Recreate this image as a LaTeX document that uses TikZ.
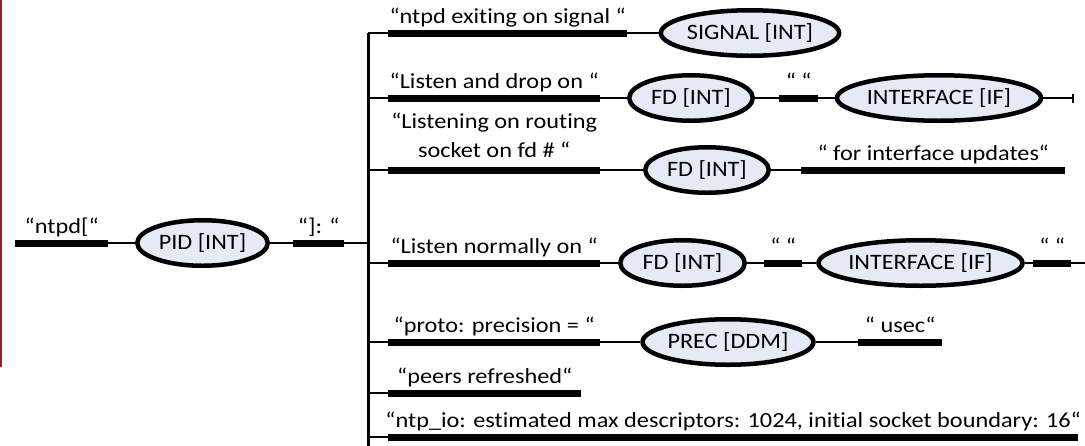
\documentclass[tikz,border=0pt]{standalone}
\usepackage{fontspec}
\setmainfont{Carlito}[FakeStretch=1.1, Ligatures=NoCommon]
\newfontfamily\labelfont{Carlito}[FakeStretch=1.13, Ligatures=NoCommon]
\usetikzlibrary{shapes.geometric}
\definecolor{fieldblue}{RGB}{228,234,246}
\definecolor{marginred}{RGB}{155,28,48}

\begin{document}
\begin{tikzpicture}[x=1pt,y=-1pt,
  lit/.style={rectangle, fill=black, draw=none, inner sep=0pt, minimum height=7pt, anchor=west},
  fld/.style={ellipse, draw=black, line width=4.5pt, fill=fieldblue, inner sep=0pt,
    minimum height=45.5pt, font=\fontsize{22}{26}\selectfont},
  txt/.style={anchor=base, inner sep=0pt, font=\labelfont\fontsize{21.5}{29}\selectfont},
  wire/.style={line width=2pt},
  trunk/.style={line width=3pt},
]
\useasboundingbox (0,0) rectangle (1085,445);

% margin rule
\draw[marginred, line width=2pt] (1,0) -- (1,367);

% ---- message prefix: "ntpd[" PID "]: "
\node[lit, minimum width=93pt] (b0) at (15,243) {};
\node[txt] (l0) at ([yshift=10pt]b0.center) {“ntpd[“};
\node[fld, minimum width=130.5pt] (pid) at (202.5,243) {PID [INT]};
\node[lit, minimum width=51pt] (b0b) at (293,243) {};
\node[txt] (l0b) at ([yshift=10pt]b0b.center) {“]: “};
\draw[wire] (b0.east) -- (pid.west);
\draw[wire] (pid.east) -- (b0b.west);

% trunk and junctions
\coordinate (j0) at (368,243);
\coordinate (j1) at (368,33);
\coordinate (j2) at (368,98);
\coordinate (j3) at (368,170);
\coordinate (j4) at (368,263);
\coordinate (j5) at (368,342);
\coordinate (j6) at (368,393);
\coordinate (j7) at (368,437);
\coordinate (jb) at (368,447);
\draw[trunk] (j1) -- (jb);
\draw[wire] (b0b.east) -- (j0);

% ---- row 1
\node[lit, minimum width=239pt] (b1) at (388,33) {};
\node[txt] (l1) at ([yshift=10pt]b1.center) {“ntpd exiting on signal “};
\node[fld, minimum width=165.5pt] (sig) at (750,33) {SIGNAL [INT]};
\draw[wire] (j1) -- (b1.west);
\draw[wire] (b1.east) -- (sig.west);

% ---- row 2
\node[lit, minimum width=212pt] (b2) at (388,98) {};
\node[txt] (l2) at ([yshift=10pt]b2.center) {“Listen and drop on “};
\node[fld, minimum width=123.5pt] (fd2) at (691,98) {FD [INT]};
\node[lit, minimum width=39pt] (s2) at (779,98) {};
\node[txt] (ls2) at ([yshift=10pt]s2.center) {“ “};
\node[fld, minimum width=191.5pt] (if2) at (939,98) {INTERFACE [IF]};
\node[lit, minimum width=2pt, minimum height=9pt] (t2) at (1072,98) {};
\draw[wire] (j2) -- (b2.west);
\draw[wire] (b2.east) -- (fd2.west);
\draw[wire] (fd2.east) -- (s2.west);
\draw[wire] (s2.east) -- (if2.west);
\draw[wire] (if2.east) -- (t2.west);

% ---- row 3 (two-line caption, anchored on its last line)
\node[lit, minimum width=212pt] (b3) at (388,170) {};
\node[txt, align=center] (l3) at ([yshift=13pt]b3.center) {“Listening on routing\\socket on fd \# “};
\node[fld, minimum width=123.5pt] (fd3) at (707,170) {FD [INT]};
\node[lit, minimum width=264pt] (e3) at (801,170) {};
\node[txt] (le3) at ([yshift=10pt]e3.center) {“ for interface updates“};
\draw[wire] (j3) -- (b3.west);
\draw[wire] (b3.east) -- (fd3.west);
\draw[wire] (fd3.east) -- (e3.west);

% ---- row 4
\node[lit, minimum width=212pt] (b4) at (388,263) {};
\node[txt] (l4) at ([yshift=10pt]b4.center) {“Listen normally on “};
\node[fld, minimum width=124.5pt] (fd4) at (682.5,263) {FD [INT]};
\node[lit, minimum width=38pt] (s4) at (764,263) {};
\node[txt] (ls4) at ([yshift=10pt]s4.center) {“ “};
\node[fld, minimum width=190.5pt] (if4) at (920.5,263) {INTERFACE [IF]};
\node[lit, minimum width=38pt] (u4) at (1033,263) {};
\node[txt] (lu4) at ([yshift=10pt]u4.center) {“ “};
\coordinate (e4) at (1086,263);
\draw[wire] (j4) -- (b4.west);
\draw[wire] (b4.east) -- (fd4.west);
\draw[wire] (fd4.east) -- (s4.west);
\draw[wire] (s4.east) -- (if4.west);
\draw[wire] (if4.east) -- (u4.west);
\draw[wire] (u4.east) -- (e4);

% ---- row 5
\node[lit, minimum width=212pt] (b5) at (388,342) {};
\node[txt] (l5) at ([yshift=10pt]b5.center) {“proto: precision = “};
\node[fld, minimum width=165.5pt] (prec) at (728,342) {PREC [DDM]};
\node[lit, minimum width=84pt] (e5) at (858,342) {};
\node[txt] (le5) at ([yshift=10pt]e5.center) {“ usec“};
\draw[wire] (j5) -- (b5.west);
\draw[wire] (b5.east) -- (prec.west);
\draw[wire] (prec.east) -- (e5.west);

% ---- row 6
\node[lit, minimum width=193pt] (b6) at (388,393) {};
\node[txt] (l6) at ([yshift=10pt]b6.center) {“peers refreshed“};
\draw[wire] (j6) -- (b6.west);

% ---- row 7
\node[lit, minimum width=690pt] (b7) at (388,437) {};
\node[txt] (l7) at ([yshift=10pt]b7.center) {“ntp\_io: estimated max descriptors: 1024, initial socket boundary: 16“};
\draw[wire] (j7) -- (b7.west);
\end{tikzpicture}
\end{document}
